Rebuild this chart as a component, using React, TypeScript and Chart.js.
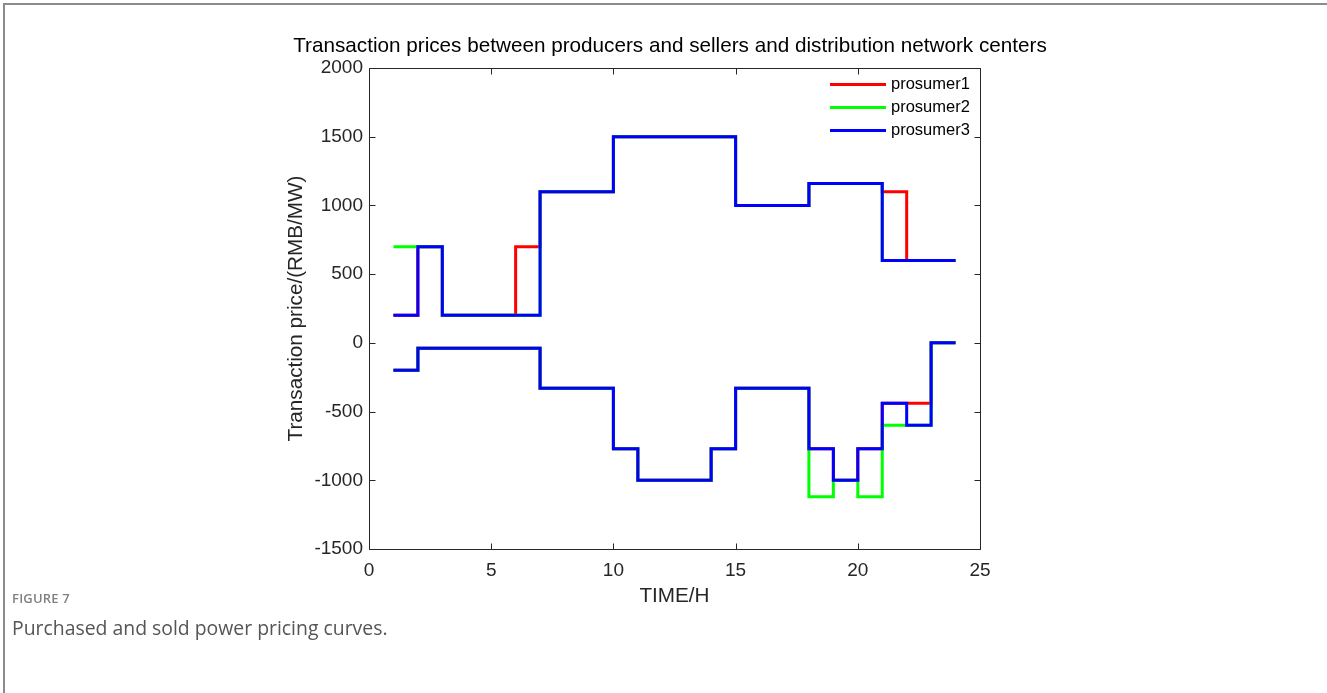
import React, { useEffect, useRef } from "react";
import { Chart, registerables } from "chart.js";

Chart.register(...registerables);

// ---- data ----
const HOURS = [1, 2, 3, 4, 5, 6, 7, 8, 9, 10, 11, 12, 13, 14, 15, 16, 17, 18, 19, 20, 21, 22, 23, 24];

// selling prices (upper curves)
const P1_SELL = [200, 700, 200, 200, 200, 700, 1100, 1100, 1100, 1500, 1500, 1500, 1500, 1500, 1000, 1000, 1000, 1160, 1160, 1160, 1100, 600, 600, 600];
const P2_SELL = [700, 700, 200, 200, 200, 200, 1100, 1100, 1100, 1500, 1500, 1500, 1500, 1500, 1000, 1000, 1000, 1160, 1160, 1160, 600, 600, 600, 600];
const P3_SELL = [200, 700, 200, 200, 200, 200, 1100, 1100, 1100, 1500, 1500, 1500, 1500, 1500, 1000, 1000, 1000, 1160, 1160, 1160, 600, 600, 600, 600];

// purchasing prices (lower curves)
const P1_BUY = [-200, -40, -40, -40, -40, -40, -330, -330, -330, -770, -1000, -1000, -1000, -770, -330, -330, -330, -770, -1000, -770, -440, -440, 0, 0];
const P2_BUY = [-200, -40, -40, -40, -40, -40, -330, -330, -330, -770, -1000, -1000, -1000, -770, -330, -330, -330, -1120, -1000, -1120, -600, -600, 0, 0];
const P3_BUY = [-200, -40, -40, -40, -40, -40, -330, -330, -330, -770, -1000, -1000, -1000, -770, -330, -330, -330, -770, -1000, -770, -440, -600, 0, 0];

const SERIES_NAMES = ["prosumer1", "prosumer2", "prosumer3"];
const SERIES_COLORS = ["#ff0000", "#00ff00", "#0000ff"];

const X_TICKS = [0, 5, 10, 15, 20, 25];
const Y_TICKS = [-1500, -1000, -500, 0, 500, 1000, 1500, 2000];

const TITLE = "Transaction prices between producers and sellers and distribution network centers";
const X_LABEL = "TIME/H";
const Y_LABEL = "Transaction price/(RMB/MW)";
const FIG_LABEL = "FIGURE 7";
const FIG_CAPTION = "Purchased and sold power pricing curves.";

const FONT = "'Liberation Sans', Arial, Helvetica, sans-serif";
const AXIS_COLOR = "#262626";

const toPoints = (vals: number[]) => HOURS.map((h, i) => ({ x: h, y: vals[i] }));

const framePlugin = {
  id: "matlabFrame",
  afterDatasetsDraw(chart: any) {
    const { ctx, chartArea: a, scales } = chart;
    const L = a.left + 0.5;
    const R = a.right + 0.5;
    const T = a.top + 0.5;
    const B = a.bottom + 0.5;
    const len = 6;
    ctx.save();
    ctx.strokeStyle = AXIS_COLOR;
    ctx.lineWidth = 1;
    ctx.beginPath();
    ctx.rect(L, T, R - L, B - T);
    for (const v of X_TICKS) {
      const x = Math.round(scales.x.getPixelForValue(v)) + 0.5;
      ctx.moveTo(x, B);
      ctx.lineTo(x, B - len);
      ctx.moveTo(x, T);
      ctx.lineTo(x, T + len);
    }
    for (const v of Y_TICKS) {
      const y = Math.round(scales.y.getPixelForValue(v)) + 0.5;
      ctx.moveTo(L, y);
      ctx.lineTo(L + len, y);
      ctx.moveTo(R, y);
      ctx.lineTo(R - len, y);
    }
    ctx.stroke();
    ctx.restore();
  },
};

const legendPlugin = {
  id: "insideLegend",
  afterDraw(chart: any) {
    const { ctx, chartArea: a } = chart;
    const lineX0 = a.right - 150;
    const lineX1 = a.right - 94;
    const textX = a.right - 89;
    const y0 = a.top + 16.5;
    const dy = 23;
    ctx.save();
    ctx.font = `16.5px ${FONT}`;
    ctx.textBaseline = "middle";
    ctx.textAlign = "left";
    SERIES_NAMES.forEach((name, i) => {
      const y = y0 + i * dy;
      ctx.strokeStyle = SERIES_COLORS[i];
      ctx.lineWidth = 3;
      ctx.beginPath();
      ctx.moveTo(lineX0, y);
      ctx.lineTo(lineX1, y);
      ctx.stroke();
      ctx.fillStyle = "#000";
      ctx.fillText(name, textX, y);
    });
    ctx.restore();
  },
};

export default function App() {
  const ref = useRef<HTMLCanvasElement>(null);

  useEffect(() => {
    if (!ref.current) return;
    const mk = (vals: number[], idx: number, label: string) => ({
      label,
      data: toPoints(vals),
      borderColor: SERIES_COLORS[idx],
      backgroundColor: SERIES_COLORS[idx],
      borderWidth: 3,
      pointRadius: 0,
      pointHoverRadius: 0,
      stepped: true,
      fill: false,
      order: 3 - idx,
      yAxisID: "y",
    });
    const chart = new Chart(ref.current, {
      type: "line",
      data: {
        datasets: [
          mk(P1_SELL, 0, SERIES_NAMES[0]),
          mk(P2_SELL, 1, SERIES_NAMES[1]),
          mk(P3_SELL, 2, SERIES_NAMES[2]),
          mk(P1_BUY, 0, SERIES_NAMES[0] + " buy"),
          mk(P2_BUY, 1, SERIES_NAMES[1] + " buy"),
          mk(P3_BUY, 2, SERIES_NAMES[2] + " buy"),
        ] as any,
      },
      options: {
        responsive: false,
        animation: false,
        events: [],
        layout: { padding: 0 },
        plugins: {
          legend: { display: false },
          tooltip: { enabled: false },
          title: {
            display: true,
            text: TITLE,
            color: "#000",
            font: { family: FONT, size: 20.7, weight: "normal" as any, lineHeight: 1.2 },
            padding: { top: 33.5, bottom: 9.66 },
          },
        },
        scales: {
          x: {
            type: "linear",
            min: 0,
            max: 25,
            afterBuildTicks: (s: any) => {
              s.ticks = X_TICKS.map((v) => ({ value: v }));
            },
            afterFit: (s: any) => {
              s.height = 71;
            },
            grid: { display: false, drawTicks: false },
            border: { display: false },
            ticks: {
              color: AXIS_COLOR,
              padding: 10.6,
              maxRotation: 0,
              autoSkip: false,
              font: { family: FONT, size: 19 },
              callback: (v: any) => String(v),
            },
            title: {
              display: true,
              text: X_LABEL,
              color: AXIS_COLOR,
              font: { family: FONT, size: 20.7, lineHeight: 1.2 },
              padding: { top: 0, bottom: 11 },
            },
          },
          y: {
            type: "linear",
            position: "left",
            min: -1500,
            max: 2000,
            afterBuildTicks: (s: any) => {
              s.ticks = Y_TICKS.map((v) => ({ value: v }));
            },
            afterFit: (s: any) => {
              s.width = 356;
            },
            grid: { display: false, drawTicks: false },
            border: { display: false },
            ticks: {
              color: AXIS_COLOR,
              padding: 6,
              autoSkip: false,
              font: { family: FONT, size: 19 },
              callback: (v: any) => String(v),
            },
            title: {
              display: true,
              text: Y_LABEL,
              color: AXIS_COLOR,
              font: { family: FONT, size: 20.7, lineHeight: 1.2 },
              padding: { top: 270.6, bottom: 0 },
            },
          },
          // empty spacer axis on the right so the title centres over the figure
          yRight: {
            type: "linear",
            position: "right",
            min: -1500,
            max: 2000,
            afterFit: (s: any) => {
              s.width = 347;
            },
            grid: { display: false, drawTicks: false },
            border: { display: false },
            ticks: { display: false },
          },
        },
      } as any,
      plugins: [framePlugin, legendPlugin],
    });
    return () => chart.destroy();
  }, []);

  return (
    <div
      style={{
        position: "absolute",
        left: 0,
        top: 0,
        width: 1327,
        height: 693,
        overflow: "hidden",
        background: "#fff",
      }}
    >
      <div
        style={{
          position: "absolute",
          left: 3,
          top: 3,
          width: 1322,
          height: 720,
          borderLeft: "2px solid #8c8c8c",
          borderTop: "2px solid #8c8c8c",
          borderRight: "2px solid #8c8c8c",
        }}
      />
      <canvas
        ref={ref}
        width={1314}
        height={620}
        style={{ position: "absolute", left: 13, top: 0, width: 1314, height: 620 }}
      />
      <div
        style={{
          position: "absolute",
          left: 12,
          top: 589,
          fontFamily: "'Open Sans', sans-serif",
          fontSize: 13,
          fontWeight: 600,
          letterSpacing: 0.2,
          color: "#808080",
          lineHeight: "18px",
        }}
      >
        {FIG_LABEL}
      </div>
      <div
        style={{
          position: "absolute",
          left: 12,
          top: 615,
          fontFamily: "'Open Sans', sans-serif",
          fontSize: 19.4,
          color: "#555",
          lineHeight: "26px",
        }}
      >
        {FIG_CAPTION}
      </div>
    </div>
  );
}
